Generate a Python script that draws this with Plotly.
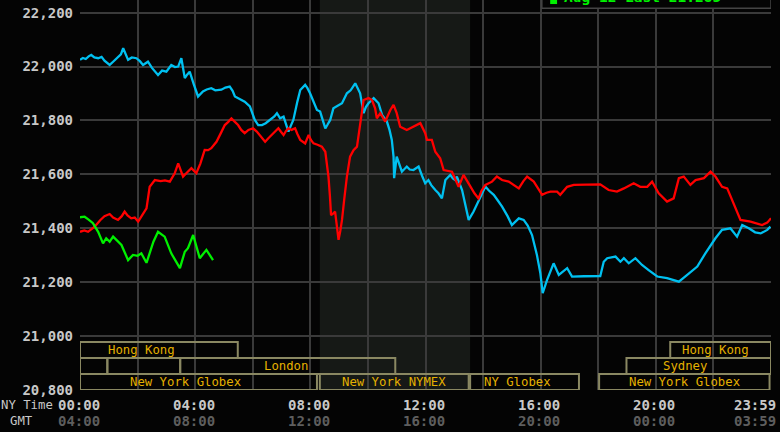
import plotly.graph_objects as go

# ---------------- data (hours since 00:00 NY time, price) ----------------
cyan_t = [0.0, 0.1, 0.2, 0.3, 0.39, 0.5, 0.63, 0.75, 0.85, 1.03, 1.15, 1.3, 1.42, 1.5, 1.58, 1.67, 1.8, 1.96,
          2.08, 2.19, 2.36, 2.5, 2.71, 2.85, 3.0, 3.17, 3.3, 3.41, 3.52, 3.58, 3.64, 3.72, 3.81, 3.95, 4.1,
          4.27, 4.4, 4.56, 4.7, 4.91, 5.05, 5.2, 5.3, 5.38, 5.55, 5.72, 5.9, 6.07, 6.19, 6.32, 6.45, 6.6,
          6.75, 6.84, 6.95, 7.07, 7.15, 7.24, 7.32, 7.41, 7.55, 7.65, 7.82, 7.9, 7.99, 8.1, 8.23, 8.34,
          8.45, 8.52, 8.6, 8.69, 8.8, 8.95, 9.1, 9.27, 9.4, 9.56, 9.65, 9.73, 9.79, 9.85, 9.93, 10.02,
          10.2, 10.37, 10.49, 10.66, 10.75, 10.83, 10.89, 10.91, 11.0, 11.1, 11.18, 11.35, 11.45, 11.58,
          11.76, 11.88, 11.99, 12.1, 12.2, 12.34, 12.45, 12.57, 12.69, 12.86, 12.95, 13.03, 13.09, 13.27,
          13.4, 13.5, 13.67, 13.9, 14.08, 14.2, 14.37, 14.5, 14.66, 14.85, 15.0, 15.24, 15.41, 15.55,
          15.7, 15.87, 15.99, 16.07, 16.22, 16.45, 16.63, 16.92, 17.09, 17.5, 18.07, 18.19, 18.31, 18.6,
          18.77, 18.89, 19.06, 19.29, 19.52, 19.75, 20.05, 20.39, 20.6, 20.8, 21.09, 21.44, 21.72, 22.07,
          22.3, 22.59, 22.82, 23.0, 23.23, 23.45, 23.64, 23.87, 23.98]
cyan_v = [22025, 22032, 22028, 22038, 22043, 22034, 22031, 22036, 22022, 22006, 22018, 22032, 22045, 22068,
          22045, 22025, 22034, 22031, 22020, 22006, 22018, 21995, 21969, 21985, 21981, 22006, 21998, 22000,
          22031, 21990, 21957, 21970, 21981, 21935, 21889, 21908, 21915, 21920, 21912, 21914, 21922, 21926,
          21910, 21889, 21878, 21870, 21852, 21802, 21783, 21783, 21790, 21802, 21815, 21827, 21808, 21814,
          21790, 21759, 21780, 21802, 21870, 21913, 21932, 21920, 21901, 21870, 21839, 21833, 21800, 21771,
          21785, 21802, 21845, 21855, 21864, 21901, 21912, 21938, 21920, 21901, 21864, 21827, 21850, 21864,
          21883, 21864, 21821, 21796, 21765, 21728, 21666, 21586, 21666, 21630, 21610, 21629, 21618, 21616,
          21629, 21595, 21567, 21579, 21560, 21542, 21530, 21511, 21579, 21598, 21585, 21579, 21592, 21542,
          21480, 21431, 21462, 21511, 21555, 21540, 21524, 21505, 21480, 21445, 21412, 21437, 21431, 21410,
          21375, 21301, 21233, 21159, 21208, 21270, 21227, 21252, 21221, 21222, 21223, 21276, 21289, 21295,
          21276, 21289, 21270, 21289, 21264, 21245, 21221, 21215, 21208, 21202, 21227, 21258, 21307, 21363,
          21394, 21400, 21369, 21412, 21400, 21385, 21381, 21394, 21406]

red_t = [0.0, 0.15, 0.28, 0.4, 0.51, 0.7, 0.85, 1.03, 1.15, 1.32, 1.45, 1.55, 1.65, 1.78, 1.9, 2.02, 2.15,
         2.31, 2.42, 2.6, 2.8, 2.95, 3.12, 3.29, 3.41, 3.5, 3.58, 3.7, 3.87, 4.04, 4.18, 4.33, 4.45, 4.56,
         4.74, 4.9, 5.03, 5.15, 5.26, 5.38, 5.49, 5.6, 5.72, 5.85, 6.01, 6.14, 6.3, 6.43, 6.55, 6.66, 6.78,
         6.89, 6.98, 7.07, 7.15, 7.24, 7.35, 7.47, 7.55, 7.65, 7.82, 7.94, 8.02, 8.11, 8.25, 8.4, 8.52,
         8.58, 8.63, 8.68, 8.72, 8.8, 8.86, 8.92, 8.98, 9.04, 9.1, 9.18, 9.27, 9.38, 9.5, 9.62, 9.73, 9.85,
         10.02, 10.14, 10.25, 10.31, 10.43, 10.6, 10.78, 10.89, 11.0, 11.12, 11.35, 11.5, 11.7, 11.82,
         11.99, 12.05, 12.22, 12.34, 12.51, 12.63, 12.92, 13.05, 13.15, 13.32, 13.45, 13.56, 13.7, 13.84,
         13.95, 14.08, 14.31, 14.48, 14.66, 14.89, 15.05, 15.24, 15.4, 15.53, 15.76, 15.9, 16.05, 16.2,
         16.34, 16.57, 16.68, 16.92, 17.15, 17.6, 18.07, 18.36, 18.65, 18.89, 19.23, 19.46, 19.7, 19.87,
         20.1, 20.39, 20.62, 20.8, 20.97, 21.2, 21.38, 21.67, 21.9, 22.07, 22.3, 22.48, 22.65, 22.94,
         23.29, 23.69, 23.87, 24.0]
red_v = [21387, 21392, 21387, 21398, 21406, 21430, 21445, 21453, 21440, 21431, 21445, 21462, 21448, 21437,
         21440, 21425, 21445, 21474, 21554, 21579, 21575, 21578, 21573, 21604, 21641, 21612, 21592, 21605,
         21623, 21604, 21640, 21691, 21690, 21697, 21721, 21755, 21783, 21795, 21808, 21795, 21783, 21765,
         21753, 21765, 21771, 21759, 21740, 21721, 21735, 21746, 21760, 21771, 21758, 21746, 21760, 21771,
         21765, 21771, 21750, 21728, 21715, 21746, 21728, 21715, 21710, 21703, 21684, 21640, 21592, 21520,
         21449, 21455, 21462, 21410, 21357, 21390, 21431, 21510, 21592, 21666, 21690, 21703, 21790, 21876,
         21883, 21876, 21845, 21808, 21827, 21796, 21839, 21858, 21827, 21777, 21765, 21772, 21783, 21790,
         21753, 21728, 21728, 21684, 21660, 21616, 21610, 21580, 21554, 21598, 21575, 21554, 21530, 21511,
         21540, 21561, 21573, 21592, 21579, 21573, 21560, 21548, 21575, 21592, 21573, 21550, 21524, 21532,
         21536, 21536, 21524, 21554, 21561, 21562, 21563, 21542, 21536, 21548, 21567, 21554, 21554, 21573,
         21530, 21499, 21511, 21586, 21592, 21561, 21579, 21586, 21610, 21592, 21554, 21548, 21505, 21431,
         21425, 21412, 21421, 21437]

green_t = [0.0, 0.16, 0.3, 0.45, 0.63, 0.8, 0.91, 1.03, 1.15, 1.3, 1.44, 1.67, 1.84, 2.0, 2.13, 2.31, 2.42,
           2.55, 2.71, 2.94, 3.17, 3.47, 3.64, 3.75, 3.93, 4.16, 4.39, 4.51, 4.62]
green_v = [21441, 21443, 21432, 21419, 21387, 21344, 21363, 21350, 21369, 21352, 21338, 21282, 21301, 21298,
           21307, 21272, 21307, 21350, 21387, 21369, 21307, 21252, 21313, 21326, 21375, 21289, 21320, 21301,
           21282]

y_tick_values = [20800, 21000, 21200, 21400, 21600, 21800, 22000, 22200]
y_tick_labels = ["20,800", "21,000", "21,200", "21,400", "21,600", "21,800", "22,000", "22,200"]

x_tick_hours = [0, 4, 8, 12, 16, 20, 24]
ny_time_labels = ["00:00", "04:00", "08:00", "12:00", "16:00", "20:00", "23:59"]
gmt_labels = ["04:00", "08:00", "12:00", "16:00", "20:00", "00:00", "03:59"]

# trading sessions: name, row (0 = top), start hour, end hour, label hour
session_names = ["Hong Kong", "Hong Kong", "", "", "London", "Sydney",
                 "New York Globex", "New York NYMEX", "NY Globex", "New York Globex"]
session_rows = [0, 0, 1, 1, 1, 1, 2, 2, 2, 2]
session_start = [0.0, 20.5, 0.0, 0.95, 3.48, 18.98, 0.0, 8.33, 13.55, 18.03]
session_end = [5.48, 24.0, 0.95, 3.48, 10.95, 24.0, 8.23, 13.5, 17.33, 23.95]
session_label_at = [2.12, 22.07, None, None, 7.17, 21.0, 3.65, 10.9, 15.2, 21.0]

pit_session = (8.33, 13.55)
legend_text = "Aug 12 Last 21.285"

# ---------------- styling ----------------
BG = "#040404"
GRID = "#3a3a3a"
MONO = "DejaVu Sans Mono"
Y_TOP = 22247
ROW_TOP = 20978
ROW_H = (ROW_TOP - 20800) / 3

fig = go.Figure()
for t, v, col in [(cyan_t, cyan_v, "#00c0f0"), (red_t, red_v, "#ff0000"), (green_t, green_v, "#00f000")]:
    fig.add_trace(go.Scatter(x=t, y=v, mode="lines", line=dict(color=col, width=2.3),
                             showlegend=False, hoverinfo="skip"))

shapes = []
# pit session shading
shapes.append(dict(type="rect", xref="x", yref="paper", x0=pit_session[0], x1=pit_session[1], y0=0, y1=1,
                   fillcolor="#161916", line=dict(width=0), layer="below"))
annotations = []
for name, row, s, e, lab in zip(session_names, session_rows, session_start, session_end, session_label_at):
    y1 = ROW_TOP - row * ROW_H
    y0 = y1 - ROW_H
    shapes.append(dict(type="rect", xref="x", yref="y", x0=s, x1=e, y0=y0, y1=y1,
                       line=dict(color="#8a8862", width=2), fillcolor="rgba(0,0,0,0)", layer="above"))
    if name and lab is not None:
        annotations.append(dict(x=lab, y=(y0 + y1) / 2, xref="x", yref="y", text=name, showarrow=False,
                                font=dict(family=MONO, size=12.3, color="#e4b000"),
                                xanchor="center", yanchor="middle"))

# legend box (cut off at the top)
shapes.append(dict(type="rect", xref="x", yref="y", x0=16.04, x1=24.0, y0=22216, y1=22320,
                   fillcolor=BG, line=dict(color="#444444", width=1.5), layer="above"))
shapes.append(dict(type="rect", xref="x", yref="y", x0=16.33, x1=16.57, y0=22232, y1=22320,
                   fillcolor="#00f000", line=dict(width=0), layer="above"))
annotations.append(dict(x=16.73, y=1, xref="x", yref="paper", text=legend_text, showarrow=False,
                        xanchor="left", yanchor="middle", yshift=3,
                        font=dict(family=MONO, size=14.5, color="#00f000", weight="bold")))

# x tick labels (two rows)
for h, ny, gmt in zip(x_tick_hours, ny_time_labels, gmt_labels):
    if h == 24:
        kw = dict(xanchor="right", xshift=7)
    else:
        kw = dict(xanchor="center", xshift=-1.5)
    annotations.append(dict(x=h, y=0, xref="x", yref="paper", text=ny, showarrow=False, yanchor="middle",
                            yshift=-15, font=dict(family=MONO, size=14, color="#c8c8c8", weight="bold"), **kw))
    annotations.append(dict(x=h, y=0, xref="x", yref="paper", text=gmt, showarrow=False, yanchor="middle",
                            yshift=-31, font=dict(family=MONO, size=14, color="#5e5e5e", weight="bold"), **kw))
annotations.append(dict(x=0, y=0, xref="paper", yref="paper", text="NY Time", showarrow=False,
                        xanchor="left", yanchor="middle", xshift=-81, yshift=-15,
                        font=dict(family=MONO, size=12.3, color="#c8c8c8")))
annotations.append(dict(x=0, y=0, xref="paper", yref="paper", text="GMT", showarrow=False,
                        xanchor="center", yanchor="middle", xshift=-59, yshift=-31,
                        font=dict(family=MONO, size=12.3, color="#c8c8c8")))

fig.update_layout(
    width=780, height=432,
    margin=dict(l=80, r=9, t=0, b=42),
    paper_bgcolor=BG, plot_bgcolor=BG,
    shapes=shapes, annotations=annotations,
    showlegend=False,
    xaxis=dict(range=[0, 24], tickmode="linear", tick0=0, dtick=2, showgrid=True, gridcolor=GRID,
               gridwidth=1.5, showticklabels=False, zeroline=False, showline=False, fixedrange=True),
    yaxis=dict(range=[20800, Y_TOP], tickmode="array", tickvals=y_tick_values, ticktext=y_tick_labels,
               showgrid=True, gridcolor=GRID, gridwidth=1.5, zeroline=False, showline=False,
               ticks="", ticklabelstandoff=6,
               tickfont=dict(family=MONO, size=14, color="#c8c8c8", weight="bold"), fixedrange=True),
)

fig.write_html("out.html", config={"displayModeBar": False},
               post_script="document.body.style.margin='0';document.body.style.background='#040404';")
